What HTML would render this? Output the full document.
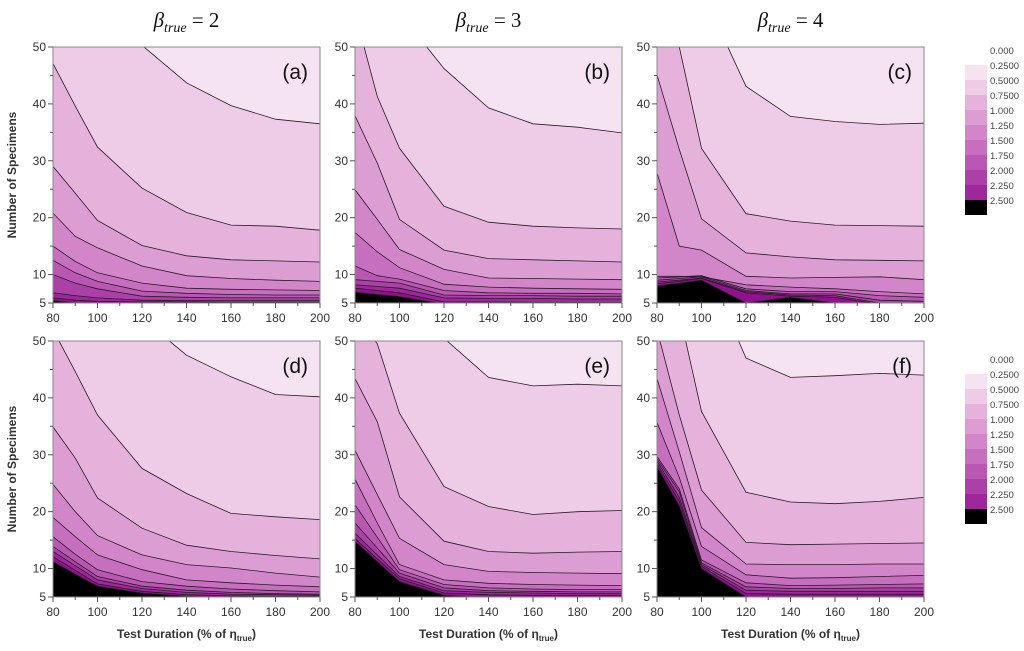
<!DOCTYPE html>
<html><head><meta charset="utf-8">
<style>
html,body{margin:0;padding:0;background:#fff;}
svg{display:block;font-family:"Liberation Sans",sans-serif;}
</style></head>
<body>
<svg id="chart" width="1024" height="651" viewBox="0 0 1024 651" xmlns="http://www.w3.org/2000/svg">
  <defs id="defs"></defs>
</svg>
<script>
// ---- data ----
const xValues = [80, 90, 100, 120, 140, 160, 180, 200];
const xTicks = [80, 100, 120, 140, 160, 180, 200];
const yTicks = [5, 10, 20, 30, 40, 50];
const levelLabels = ["0.000","0.2500","0.5000","0.7500","1.000","1.250","1.500","1.750","2.000","2.250","2.500"];
const betaTitles = ["2", "3", "4"];
const panelLetters = ["(a)","(b)","(c)","(d)","(e)","(f)"];

// contour boundary lines (Number of Specimens at each xValue), lightest -> darkest
const panelA = [
  [70,64,58,50.3,43.7,39.7,37.3,36.5],
  [47.1,39.6,32.4,25.2,20.9,18.7,18.5,17.8],
  [29,24.3,19.5,15.1,13.3,12.6,12.4,12.2],
  [20.8,16.7,14.7,11.5,9.8,9.3,9.0,8.8],
  [15,12.3,10.3,8.5,7.6,7.4,7.3,7.2],
  [12.5,10.3,8.8,7.1,6.7,6.5,6.4,6.4],
  [10,8.5,7.5,6.2,6.0,5.9,5.9,5.9],
  [6.8,6.3,5.9,5.5,5.4,5.4,5.4,5.4],
  [5.9,5.5,5.3,5.2,5.2,5.1,5.1,5.1],
  [5.4,5.0,4.8,4.8,4.8,4.8,4.8,4.8]
];
const panelB = [
  [70,63,56,46.2,39.3,36.5,35.9,34.9],
  [56,41.3,32.2,22,19.2,18.5,18.2,18],
  [37.9,29.6,19.7,14.3,12.8,12.6,12.4,12.2],
  [24.9,19.7,14.4,10.9,9.4,9.3,9.2,9.1],
  [17.4,14.0,11.2,8.3,7.8,7.6,7.5,7.4],
  [11.5,9.8,9.2,7.2,6.8,6.7,6.7,6.6],
  [9.1,8.8,8.5,6.4,6.3,6.3,6.2,6.2],
  [8.2,7.9,7.6,5.9,5.8,5.8,5.7,5.7],
  [7.6,7.2,6.8,5.2,5.2,5.1,5.1,5.1],
  [6.9,6.5,6.1,4.8,4.8,4.8,4.8,4.8]
];
const panelC = [
  [75,68,60,43.1,37.8,36.9,36.4,36.6],
  [58,50,32.2,20.7,19.4,18.7,18.6,18.5],
  [45.1,32,19.8,13.8,13.1,12.6,12.5,12.4],
  [27.9,15,14.3,9.7,9.4,9.5,9.6,9.1],
  [9.7,9.7,9.6,8.2,7.8,7.5,7.0,6.6],
  [9.4,9.6,9.8,7.5,7.0,7.0,6.3,6.0],
  [9.0,9.3,9.6,7.2,6.6,6.6,5.5,5.3],
  [8.7,9.0,9.4,7.0,6.4,6.3,5.0,5.0],
  [8.4,8.8,9.3,6.8,6.2,6.0,4.8,4.8],
  [8.0,8.5,9.0,5.0,6.0,5.0,4.8,4.8]
];
const panelD = [
  [80,70,62,54,47.5,43.7,40.6,40.2],
  [52,44.6,37,27.6,23.2,19.7,19.1,18.6],
  [34.9,29.4,22.4,17.1,14.1,13,12.3,11.7],
  [24.8,20,15.8,12.4,10.7,10.1,9.2,8.5],
  [19,15.6,12.4,9.8,8,7.5,7.1,6.8],
  [15.6,12.5,9.8,7.7,6.9,6.4,6.1,5.9],
  [13.9,11.2,8.6,6.9,6.2,5.8,5.6,5.5],
  [13,10.5,8,6.5,5.8,5.5,5.4,5.3],
  [12.1,9.7,7.3,6,5.4,5.2,5.1,5.1],
  [11.2,9.0,6.9,5.7,5.1,4.8,4.8,4.8]
];
const panelE = [
  [75,66,58,50.5,43.6,42.1,42.4,42.1],
  [55,49.5,37.3,24.4,20.9,19.5,20,20.2],
  [43.4,35.8,22.6,14.8,13,12.7,12.9,13],
  [30.8,23,15.3,10.7,9.5,9.3,9.2,9.1],
  [25.7,18,10.7,8,7.4,7.2,7.1,7],
  [21.2,15.5,9.8,7.2,6.6,6.4,6.3,6.3],
  [18,13.6,9.2,6.6,6.1,6,5.9,5.9],
  [16.2,12.4,8.6,6.1,5.8,5.7,5.6,5.6],
  [15.3,11.7,8.2,5.7,5.4,5.3,5.3,5.3],
  [14.8,11.2,7.7,5.3,4.8,4.8,4.8,4.8]
];
const panelF = [
  [85,75,65,47,43.6,43.9,44.3,44],
  [65,55,37.6,23.4,21.7,21.4,21.8,22.5],
  [52,37,23.8,14.6,14.2,14.3,14.4,14.5],
  [43.4,30.5,17.2,10.8,10.7,10.7,10.8,10.8],
  [35.7,26,13.9,8.9,8.3,8.4,8.6,8.8],
  [29.7,24,11.5,7.5,7,7.1,7.2,7.3],
  [29.3,23.5,11,6.8,6.5,6.5,6.6,6.6],
  [28.9,22.5,10.7,6.2,6,6,6,6],
  [28.4,21.8,10.4,5.6,5.5,5.5,5.5,5.5],
  [27.9,21,10,5.0,4.8,4.8,4.8,4.8]
];
const panelData = [panelA, panelB, panelC, panelD, panelE, panelF];

// ---- style ----
const fills = ["#f6e3f2","#eecbe6","#e5b2dc","#dc9dd3","#d286c9","#c76fbf","#b957b3","#ab40a7","#9e289b","#91108e","#000000"];
const legendFills = ["#f6e3f2","#eecbe6","#e5b2dc","#dc9dd3","#d286c9","#c76fbf","#b957b3","#ab40a7","#9e289b","#000000"];
const NS = "http://www.w3.org/2000/svg";
const svg = document.getElementById("chart");
const defs = document.getElementById("defs");
function mk(tag, attrs, parent) {
  const e = document.createElementNS(NS, tag);
  for (const k in attrs) e.setAttribute(k, attrs[k]);
  (parent || svg).appendChild(e);
  return e;
}
const colLeft = [53, 355, 657];
const rowTop = [47, 341];
const PW = 267, PH = 256;

panelData.forEach((lines, p) => {
  const col = p % 3, row = Math.floor(p / 3);
  const L = colLeft[col], T = rowTop[row];
  const xs = v => L + (v - 80) / 120 * PW;
  const ys = v => T + PH - (v - 5) / 45 * PH;
  const g = mk("g", {});
  
  
  const cp = mk("clipPath", {id: "clip" + p}, defs);
  mk("rect", {x: L, y: T, width: PW, height: PH}, cp);
  const plot = mk("g", {"clip-path": "url(#clip" + p + ")"}, g);
  const bg = mk("rect", {x: L, y: T, width: PW, height: PH, fill: fills[0]}, plot);
  
  
  lines.forEach((ln, k) => {
    let pts = ln.map((v, i) => xs(xValues[i]).toFixed(1) + "," + ys(v).toFixed(1));
    const poly = mk("polygon", {points: pts.join(" ") + " " + xs(200) + "," + (T + PH + 20) + " " + xs(80) + "," + (T + PH + 20), fill: fills[k + 1]}, plot);
    
    
  });
  lines.forEach((ln) => {
    const pl = mk("polyline", {points: ln.map((v, i) => xs(xValues[i]).toFixed(1) + "," + ys(v).toFixed(1)).join(" "), fill: "none", stroke: "#2a1a28", "stroke-width": 0.8}, plot);
    
    
  });
  const fr = mk("rect", {x: L, y: T, width: PW, height: PH, fill: "none", stroke: "#8a8a8a", "stroke-width": 1}, g);
  
  
  // x ticks
  for (let v = 80; v <= 200; v += 10) {
    const major = v % 20 === 0;
    const t = mk("line", {x1: xs(v), x2: xs(v), y1: T + PH, y2: T + PH + (major ? 5 : 3), stroke: "#555", "stroke-width": 1}, g);
    
    
  }
  xTicks.forEach(v => {
    const t = mk("text", {x: xs(v), y: T + PH + 19, "text-anchor": "middle", "font-size": 12, fill: "#333"}, g);
    t.textContent = v;
    
    
  });
  // y ticks
  for (let v = 5; v <= 50; v += 5) {
    const major = yTicks.indexOf(v) >= 0;
    const t = mk("line", {x1: L - (major ? 5 : 3), x2: L, y1: ys(v), y2: ys(v), stroke: "#555", "stroke-width": 1}, g);
    
    
  }
  yTicks.forEach(v => {
    const t = mk("text", {x: L - 7, y: ys(v) + 4, "text-anchor": "end", "font-size": 12, fill: "#333"}, g);
    t.textContent = v;
    
    
  });
  const lt = mk("text", {x: L + PW - 12, y: T + 32, "text-anchor": "end", "font-size": 21, fill: "#111"}, g);
  lt.textContent = panelLetters[p];
  
  
  if (col === 0) {
    const yl = mk("text", {x: 0, y: 0, transform: "translate(16," + (T + PH / 2) + ") rotate(-90)", "text-anchor": "middle", "font-size": 12, "font-weight": "bold", fill: "#333"}, g);
    yl.textContent = "Number of Specimens";
    
    
  }
  if (row === 1) {
    const xl = mk("text", {x: L + PW / 2, y: 638, "text-anchor": "middle", "font-size": 12, "font-weight": "bold", fill: "#333"}, g);
    xl.appendChild(document.createTextNode("Test Duration (% of η"));
    const sub = mk("tspan", {"font-size": 8, dy: 3}, xl); sub.textContent = "true";
    const cl = mk("tspan", {dy: -3}, xl); cl.textContent = ")";
    
    
  }
  if (row === 0) {
    const tt = mk("text", {x: L + PW / 2, y: 27, "text-anchor": "middle", "font-size": 21, "font-family": "Liberation Serif, serif", fill: "#111"}, g);
    const b = mk("tspan", {"font-style": "italic"}, tt); b.textContent = "β";
    const s = mk("tspan", {"font-style": "italic", "font-size": 14, dy: 5}, tt); s.textContent = "true";
    const e = mk("tspan", {dy: -5}, tt); e.textContent = " = " + betaTitles[col];
    
    
  }
});

// legends
[50, 359].forEach((top0, li) => {
  const g = mk("g", {});
  
  
  const sy = top0 + 15;
  legendFills.forEach((c, i) => {
    const r = mk("rect", {x: 965, y: sy + i * 15, width: 22, height: 15, fill: c}, g);
    
    
  });
  levelLabels.forEach((t, i) => {
    const tx = mk("text", {x: 990, y: top0 + i * 15 + 4, "font-size": 9.5, fill: "#444"}, g);
    tx.textContent = t;
    
    
  });
});
</script>
</body></html>
